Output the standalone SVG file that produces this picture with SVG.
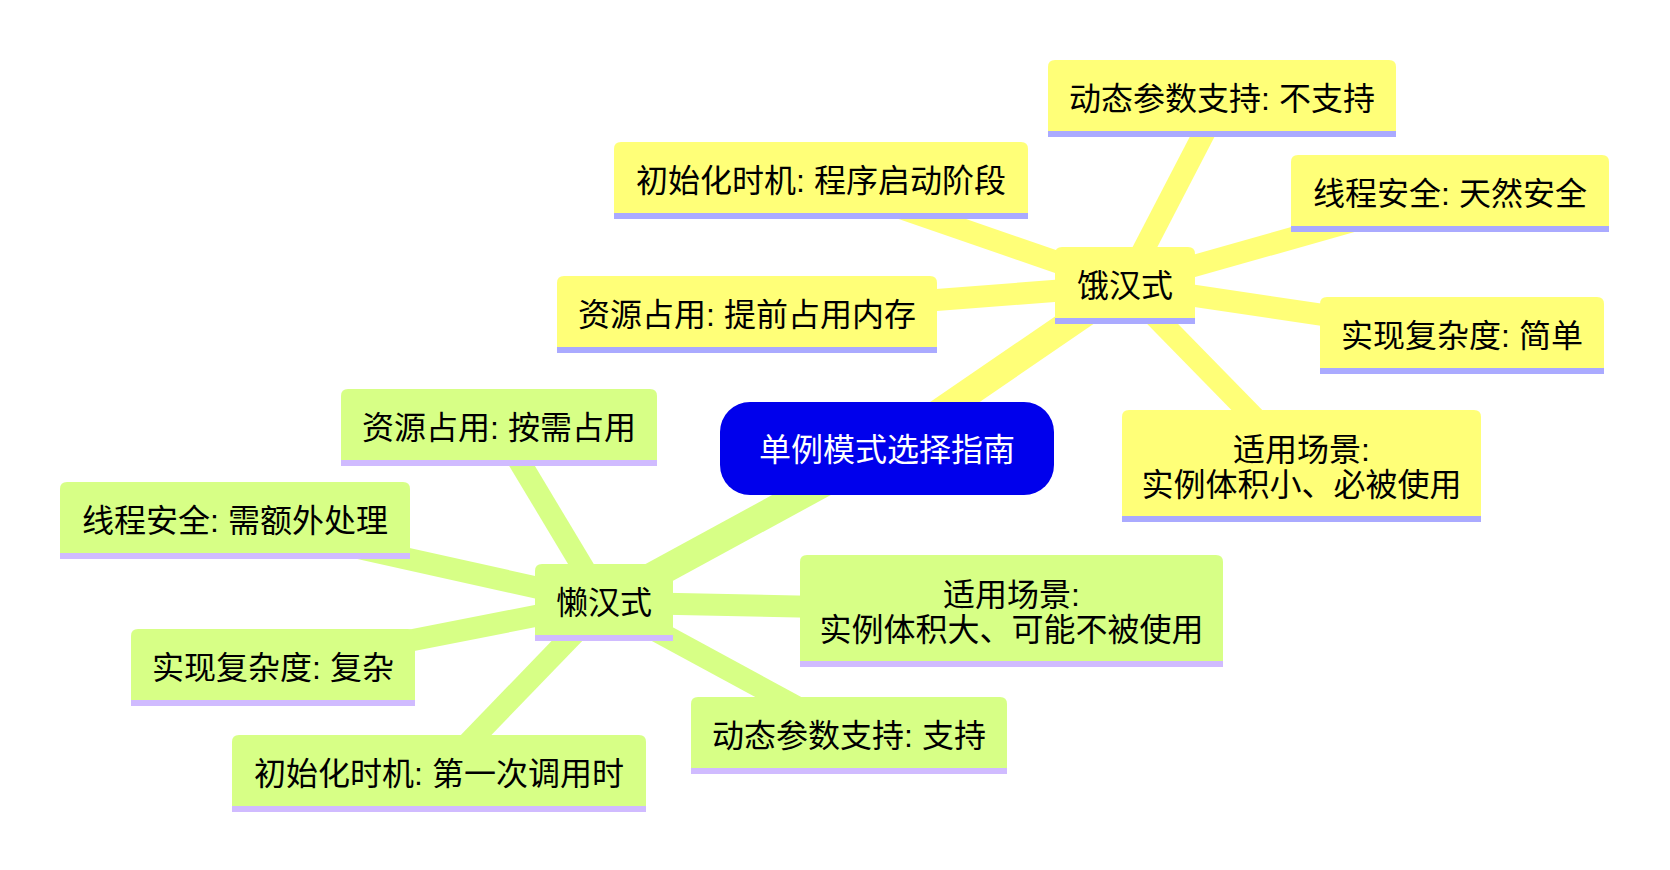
<svg xmlns="http://www.w3.org/2000/svg" width="1670" height="870" viewBox="0 0 1670 870">
<style>
text{font-family:"Liberation Sans","Noto Sans CJK SC",sans-serif;font-size:32px;text-anchor:middle;fill:#000}
.root-text{fill:#fff}
.e0 .body{fill:#ffff78}
.e0 .line{fill:#aaaaff}
.e1 .body{fill:#d7ff86}
.e1 .line{fill:#d0bbff}
.edge{fill:none;stroke-linecap:butt}
.s0{stroke:#ffff78}
.s1{stroke:#d7ff86}
.d1{stroke-width:28}
.d2{stroke-width:22}
</style>
<rect width="1670" height="870" fill="#fff"/>
<g id="connectors">
<line class="edge s0 d2" x1="1125" y1="285.5" x2="1222" y2="98.5"/>
<line class="edge s0 d2" x1="1125" y1="285.5" x2="821" y2="180.5"/>
<line class="edge s0 d2" x1="1125" y1="285.5" x2="1450" y2="193.5"/>
<line class="edge s0 d2" x1="1125" y1="285.5" x2="747" y2="314.5"/>
<line class="edge s0 d2" x1="1125" y1="285.5" x2="1462" y2="335.5"/>
<line class="edge s0 d2" x1="1125" y1="285.5" x2="1301.5" y2="466"/>
<line class="edge s1 d2" x1="604" y1="602.5" x2="499" y2="427.5"/>
<line class="edge s1 d2" x1="604" y1="602.5" x2="235" y2="520.5"/>
<line class="edge s1 d2" x1="604" y1="602.5" x2="273" y2="667.5"/>
<line class="edge s1 d2" x1="604" y1="602.5" x2="439" y2="773.5"/>
<line class="edge s1 d2" x1="604" y1="602.5" x2="849" y2="735.5"/>
<line class="edge s1 d2" x1="604" y1="602.5" x2="1011.5" y2="611"/>
<line class="edge s0 d1" x1="887" y1="448.5" x2="1125" y2="285.5"/>
<line class="edge s1 d1" x1="887" y1="448.5" x2="604" y2="602.5"/>
</g>
<g id="root">
<rect x="720" y="402" width="334" height="93" rx="30" fill="#0000ec"/>
<text class="root-text" x="887" y="461">单例模式选择指南</text>
</g>
<g id="eager" class="e0" transform="translate(1055,247)">
<path class="body" d="M0,71V7Q0,0 7,0H133Q140,0 140,7V71Z"/>
<rect class="line" y="71" width="140" height="6"/>
<text x="70" y="50">饿汉式</text>
</g>
<g id="eager-dynamic" class="e0" transform="translate(1048,60)">
<path class="body" d="M0,71V7Q0,0 7,0H341Q348,0 348,7V71Z"/>
<rect class="line" y="71" width="348" height="6"/>
<text x="174" y="50">动态参数支持: 不支持</text>
</g>
<g id="eager-init" class="e0" transform="translate(614,142)">
<path class="body" d="M0,71V7Q0,0 7,0H407Q414,0 414,7V71Z"/>
<rect class="line" y="71" width="414" height="6"/>
<text x="207" y="50">初始化时机: 程序启动阶段</text>
</g>
<g id="eager-thread" class="e0" transform="translate(1291,155)">
<path class="body" d="M0,71V7Q0,0 7,0H311Q318,0 318,7V71Z"/>
<rect class="line" y="71" width="318" height="6"/>
<text x="159" y="50">线程安全: 天然安全</text>
</g>
<g id="eager-resource" class="e0" transform="translate(557,276)">
<path class="body" d="M0,71V7Q0,0 7,0H373Q380,0 380,7V71Z"/>
<rect class="line" y="71" width="380" height="6"/>
<text x="190" y="50">资源占用: 提前占用内存</text>
</g>
<g id="eager-complexity" class="e0" transform="translate(1320,297)">
<path class="body" d="M0,71V7Q0,0 7,0H277Q284,0 284,7V71Z"/>
<rect class="line" y="71" width="284" height="6"/>
<text x="142" y="50">实现复杂度: 简单</text>
</g>
<g id="eager-scene" class="e0" transform="translate(1122,410)">
<path class="body" d="M0,106V7Q0,0 7,0H352Q359,0 359,7V106Z"/>
<rect class="line" y="106" width="359" height="6"/>
<text x="179.5" y="51">适用场景:</text>
<text x="179.5" y="86">实例体积小、必被使用</text>
</g>
<g id="lazy" class="e1" transform="translate(535,564)">
<path class="body" d="M0,71V7Q0,0 7,0H131Q138,0 138,7V71Z"/>
<rect class="line" y="71" width="138" height="6"/>
<text x="69" y="50">懒汉式</text>
</g>
<g id="lazy-resource" class="e1" transform="translate(341,389)">
<path class="body" d="M0,71V7Q0,0 7,0H309Q316,0 316,7V71Z"/>
<rect class="line" y="71" width="316" height="6"/>
<text x="158" y="50">资源占用: 按需占用</text>
</g>
<g id="lazy-thread" class="e1" transform="translate(60,482)">
<path class="body" d="M0,71V7Q0,0 7,0H343Q350,0 350,7V71Z"/>
<rect class="line" y="71" width="350" height="6"/>
<text x="175" y="50">线程安全: 需额外处理</text>
</g>
<g id="lazy-complexity" class="e1" transform="translate(131,629)">
<path class="body" d="M0,71V7Q0,0 7,0H277Q284,0 284,7V71Z"/>
<rect class="line" y="71" width="284" height="6"/>
<text x="142" y="50">实现复杂度: 复杂</text>
</g>
<g id="lazy-init" class="e1" transform="translate(232,735)">
<path class="body" d="M0,71V7Q0,0 7,0H407Q414,0 414,7V71Z"/>
<rect class="line" y="71" width="414" height="6"/>
<text x="207" y="50">初始化时机: 第一次调用时</text>
</g>
<g id="lazy-dynamic" class="e1" transform="translate(691,697)">
<path class="body" d="M0,71V7Q0,0 7,0H309Q316,0 316,7V71Z"/>
<rect class="line" y="71" width="316" height="6"/>
<text x="158" y="50">动态参数支持: 支持</text>
</g>
<g id="lazy-scene" class="e1" transform="translate(800,555)">
<path class="body" d="M0,106V7Q0,0 7,0H416Q423,0 423,7V106Z"/>
<rect class="line" y="106" width="423" height="6"/>
<text x="211.5" y="51">适用场景:</text>
<text x="211.5" y="86">实例体积大、可能不被使用</text>
</g>
</svg>
